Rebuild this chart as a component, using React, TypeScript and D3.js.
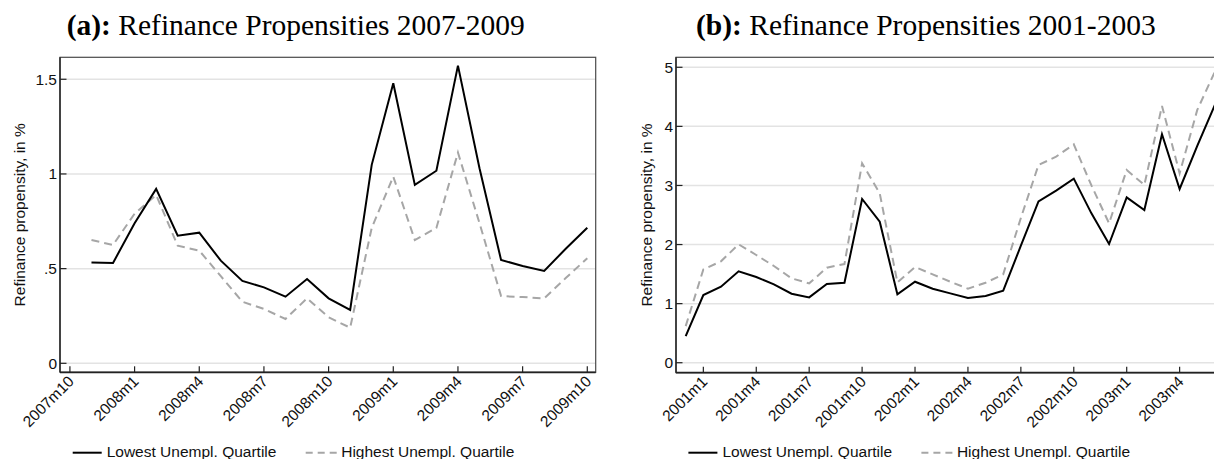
import React from "react";
import * as d3 from "d3";

// monthly periods, Stata style "YYYYmM"
const periodsA = [
  "2007m11", "2007m12", "2008m1", "2008m2", "2008m3", "2008m4", "2008m5", "2008m6",
  "2008m7", "2008m8", "2008m9", "2008m10", "2008m11", "2008m12", "2009m1", "2009m2",
  "2009m3", "2009m4", "2009m5", "2009m6", "2009m7", "2009m8", "2009m9", "2009m10",
];
const lowestA = [
  0.533, 0.53, 0.74, 0.921, 0.674, 0.69, 0.542, 0.435, 0.401, 0.352, 0.445, 0.343,
  0.282, 1.048, 1.479, 0.942, 1.017, 1.572, 1.03, 0.546, 0.514, 0.488, 0.605, 0.716,
];
const highestA = [
  0.651, 0.625, 0.79, 0.889, 0.621, 0.595, 0.46, 0.325, 0.287, 0.234, 0.343, 0.243,
  0.188, 0.715, 0.986, 0.651, 0.715, 1.113, 0.74, 0.355, 0.35, 0.343, 0.45, 0.555,
];

const periodsB = [
  "2000m12", "2001m1", "2001m2", "2001m3", "2001m4", "2001m5", "2001m6", "2001m7",
  "2001m8", "2001m9", "2001m10", "2001m11", "2001m12", "2002m1", "2002m2", "2002m3",
  "2002m4", "2002m5", "2002m6", "2002m7", "2002m8", "2002m9", "2002m10", "2002m11",
  "2002m12", "2003m1", "2003m2", "2003m3", "2003m4", "2003m5", "2003m6",
];
const lowestB = [
  0.451, 1.146, 1.287, 1.546, 1.45, 1.326, 1.168, 1.106, 1.332, 1.354, 2.771, 2.387,
  1.157, 1.371, 1.253, 1.174, 1.095, 1.129, 1.219, 1.98, 2.731, 2.912, 3.115, 2.528,
  2.009, 2.799, 2.585, 3.866, 2.94, 3.67, 4.362,
];
const highestB = [
  0.62, 1.58, 1.716, 2.003, 1.823, 1.637, 1.428, 1.343, 1.608, 1.67, 3.375, 2.867,
  1.36, 1.62, 1.495, 1.371, 1.253, 1.354, 1.495, 2.45, 3.346, 3.488, 3.696, 3.0,
  2.359, 3.262, 3.008, 4.345, 3.205, 4.278, 4.927,
];

const xTicksA = ["2007m10", "2008m1", "2008m4", "2008m7", "2008m10", "2009m1", "2009m4", "2009m7", "2009m10"];
const xTicksB = ["2001m1", "2001m4", "2001m7", "2001m10", "2002m1", "2002m4", "2002m7", "2002m10", "2003m1", "2003m4"];
const yTicksA = [0, 0.5, 1, 1.5];
const yTickLabelsA = ["0", ".5", "1", "1.5"];
const yTicksB = [0, 1, 2, 3, 4, 5];
const yTickLabelsB = ["0", "1", "2", "3", "4", "5"];

const legendLabels = ["Lowest Unempl. Quartile", "Highest Unempl. Quartile"];
const yTitle = "Refinance propensity, in %";

const parseM = (s: string) => {
  const [y, m] = s.split("m").map(Number);
  return y * 12 + m - 1;
};

const SANS = "'Liberation Sans', Arial, Helvetica, sans-serif";
const SERIF = "'Liberation Serif', 'Times New Roman', serif";
const GRAY = "#a6a6a6";

interface PanelProps {
  tag: string;
  title: string;
  titleX: number;
  periods: string[];
  low: number[];
  high: number[];
  xTicks: string[];
  yTicks: number[];
  yTickLabels: string[];
  xDomain: [number, number];
  yDomain: [number, number];
  left: number;
  right: number;
  yTitleX: number;
  legendX: number;
}

const TOP = 57.3;

const Panel: React.FC<PanelProps> = (p) => {
  const bottom = p.yDomain[0] < -0.1 ? 372.7 : 372.3;
  const x = d3.scaleLinear().domain(p.xDomain).range([p.left, p.right]);
  const y = d3.scaleLinear().domain(p.yDomain).range([bottom, TOP]);

  const line = d3
    .line<number>()
    .x((_, i) => x(parseM(p.periods[i])))
    .y((d) => y(d));

  return (
    <g>
      <text x={p.titleX} y={35} fontFamily={SERIF} fontSize={29.5} fill="#000">
        <tspan fontWeight="bold">{p.tag}</tspan>
        <tspan> {p.title}</tspan>
      </text>

      {/* gridlines */}
      {p.yTicks.map((t) => (
        <line key={"g" + t} x1={p.left} x2={p.right} y1={y(t)} y2={y(t)} stroke="#e3e3e3" strokeWidth={1.5} />
      ))}

      {/* frame */}
      <rect x={p.left} y={TOP} width={p.right - p.left} height={bottom - TOP} fill="none" stroke="#4a4a4a" strokeWidth={1.2} />
      <line x1={p.left} x2={p.left} y1={TOP} y2={bottom} stroke="#222" strokeWidth={1.4} />
      <line x1={p.left} x2={p.right} y1={bottom} y2={bottom} stroke="#222" strokeWidth={1.8} />

      {/* y ticks */}
      {p.yTicks.map((t, i) => (
        <g key={"y" + t}>
          <line x1={p.left} x2={p.left + 6.5} y1={y(t)} y2={y(t)} stroke="#222" strokeWidth={1.2} />
          <text
            x={p.left - 3}
            y={y(t)}
            textAnchor="end"
            dominantBaseline="central"
            fontFamily={SANS}
            fontSize={15.5}
            fill="#111"
          >
            {p.yTickLabels[i]}
          </text>
        </g>
      ))}

      {/* x ticks */}
      {p.xTicks.map((t) => {
        const px = x(parseM(t));
        return (
          <g key={"x" + t}>
            <line x1={px} x2={px} y1={bottom} y2={bottom - 6} stroke="#222" strokeWidth={1.2} />
            <text
              transform={`translate(${px + 5},${bottom + 10}) rotate(-45)`}
              textAnchor="end"
              fontFamily={SANS}
              fontSize={15.5}
              fill="#111"
            >
              {t}
            </text>
          </g>
        );
      })}

      <text
        transform={`translate(${p.yTitleX},${(TOP + bottom) / 2}) rotate(-90)`}
        textAnchor="middle"
        fontFamily={SANS}
        fontSize={15.5}
        fill="#111"
      >
        {yTitle}
      </text>

      {/* series */}
      <path d={line(p.high) ?? ""} fill="none" stroke={GRAY} strokeWidth={2} strokeDasharray="8 5" />
      <path d={line(p.low) ?? ""} fill="none" stroke="#000" strokeWidth={2} strokeLinejoin="miter" />

      {/* legend */}
      <g fontFamily={SANS} fontSize={15.5} fill="#111">
        <line x1={p.legendX} x2={p.legendX + 29} y1={452.7} y2={452.7} stroke="#000" strokeWidth={2} />
        <text x={p.legendX + 34} y={456.5}>{legendLabels[0]}</text>
        <line x1={p.legendX + 233} x2={p.legendX + 265} y1={452.7} y2={452.7} stroke={GRAY} strokeWidth={2} strokeDasharray="7 5" />
        <text x={p.legendX + 268.5} y={456.5}>{legendLabels[1]}</text>
      </g>
    </g>
  );
};

export default function App() {
  return (
    <svg
      width={1214}
      height={459}
      style={{ position: "absolute", left: 0, top: 0, background: "#fff" }}
    >
      <rect width={1214} height={459} fill="#fff" />
      <Panel
        tag="(a):"
        title="Refinance Propensities 2007-2009"
        titleX={66.7}
        periods={periodsA}
        low={lowestA}
        high={highestA}
        xTicks={xTicksA}
        yTicks={yTicksA}
        yTickLabels={yTickLabelsA}
        xDomain={[parseM("2007m10") - 0.46, parseM("2009m10") + 0.39]}
        yDomain={[-0.0475, 1.616]}
        left={60}
        right={595.7}
        yTitleX={25}
        legendX={72.7}
      />
      <Panel
        tag="(b):"
        title="Refinance Propensities 2001-2003"
        titleX={696}
        periods={periodsB}
        low={lowestB}
        high={highestB}
        xTicks={xTicksB}
        yTicks={yTicksB}
        yTickLabels={yTickLabelsB}
        xDomain={[parseM("2001m1") - 1.55, parseM("2003m6") + 0.5]}
        yDomain={[-0.169, 5.169]}
        left={676}
        right={676 + 31.05 * 17.64}
        yTitleX={652}
        legendX={688.4}
      />
    </svg>
  );
}
